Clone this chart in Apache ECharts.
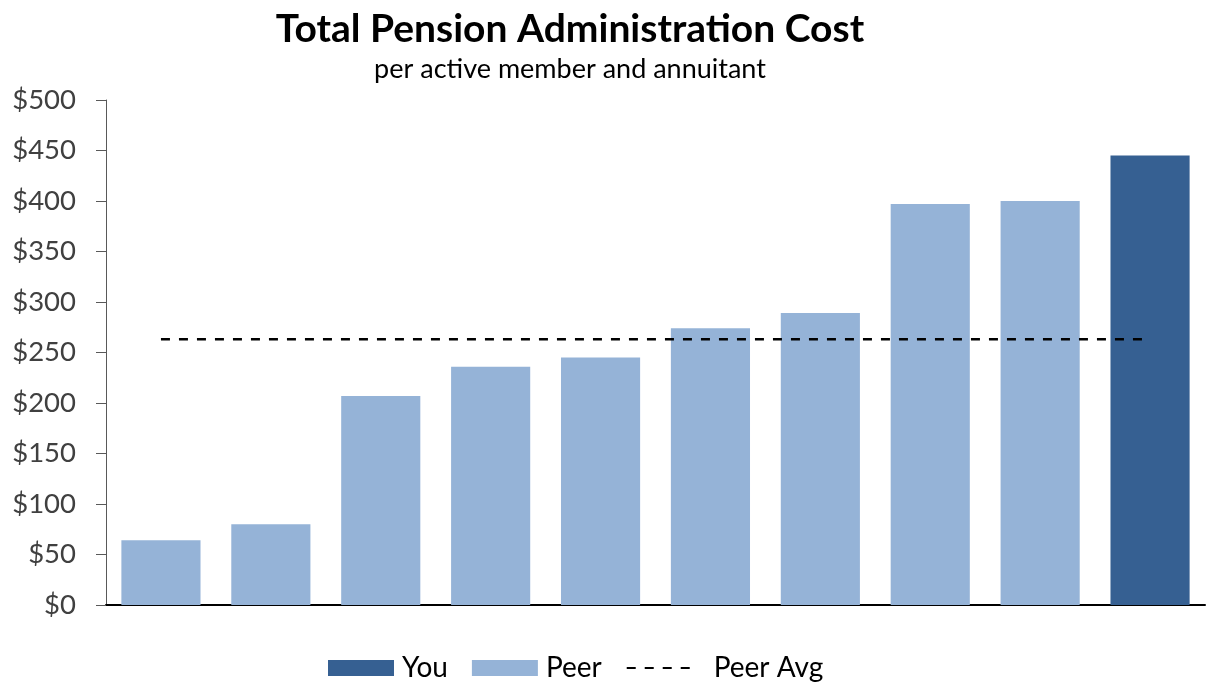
<!DOCTYPE html>
<html>
<head>
<meta charset="utf-8">
<script src="https://cdn.jsdelivr.net/npm/echarts@6/dist/echarts.min.js"></script>
<style>
  html, body { margin: 0; padding: 0; background: #fff; }
  #chart { width: 1206px; height: 683px; }
</style>
</head>
<body>
<div id="chart"></div>
<script>
// Cost per active member and annuitant, sorted ascending; the last entry is "You"
const categories = ['P1', 'P2', 'P3', 'P4', 'P5', 'P6', 'P7', 'P8', 'P9', 'You'];
const peerValues = [64, 80, 207, 236, 245, 274, 289, 397, 400, null];
const youValues = [null, null, null, null, null, null, null, null, null, 445];
const peerAvg = 263;
const yTicks = { min: 0, max: 500, interval: 50 };

const avgLine = categories.map(() => peerAvg);
const FONT = 'Lato';

const chart = echarts.init(document.getElementById('chart'), null, { renderer: 'canvas' });
chart.setOption({
  animation: false,
  textStyle: { fontFamily: FONT },
  title: [
    {
      text: 'Total Pension Administration Cost',
      left: 565, top: 5, textAlign: 'center',
      textStyle: { fontFamily: FONT, fontWeight: 'bold', fontSize: 39, color: '#000' }
    },
    {
      text: 'per active member and annuitant',
      left: 565, top: 51, textAlign: 'center',
      textStyle: { fontFamily: FONT, fontWeight: 'normal', fontSize: 27, color: '#000' }
    }
  ],
  legend: {
    top: 649,
    left: 323,
    itemWidth: 66,
    itemHeight: 16,
    itemGap: 24,
    textStyle: { fontFamily: FONT, fontSize: 28, color: '#000', padding: [0, 0, 0, 3] },
    data: [
      { name: 'You', icon: 'rect' },
      { name: 'Peer', icon: 'rect' },
      { name: 'Peer Avg', itemStyle: { opacity: 0 }, textStyle: { padding: [0, 0, 0, 16] } }
    ]
  },
  grid: { left: 106, right: 1, top: 100, bottom: 78, containLabel: false },
  xAxis: {
    type: 'category',
    data: categories,
    axisLine: { lineStyle: { color: '#000', width: 2 } },
    axisTick: { show: false },
    axisLabel: { show: false },
    splitLine: { show: false }
  },
  yAxis: {
    type: 'value',
    min: yTicks.min, max: yTicks.max, interval: yTicks.interval,
    axisLine: { show: true, lineStyle: { color: '#595959', width: 1 } },
    axisTick: { show: true, inside: false, length: 10, lineStyle: { color: '#595959' } },
    axisLabel: {
      margin: 30, fontFamily: FONT, fontSize: 27.5, color: '#404040',
      formatter: v => '$' + v
    },
    splitLine: { show: false }
  },
  series: [
    {
      name: 'You', type: 'bar', stack: 'bars',
      data: youValues, barCategoryGap: '28%',
      itemStyle: { color: '#366092' }
    },
    {
      name: 'Peer', type: 'bar', stack: 'bars',
      data: peerValues, barCategoryGap: '28%',
      itemStyle: { color: '#95B3D7' }
    },
    {
      name: 'Peer Avg', type: 'line',
      data: avgLine, symbol: 'none', z: 5,
      itemStyle: { color: '#000' },
      lineStyle: { color: '#000', width: 2.5, type: [9, 9] }
    }
  ]
});
</script>
</body>
</html>
